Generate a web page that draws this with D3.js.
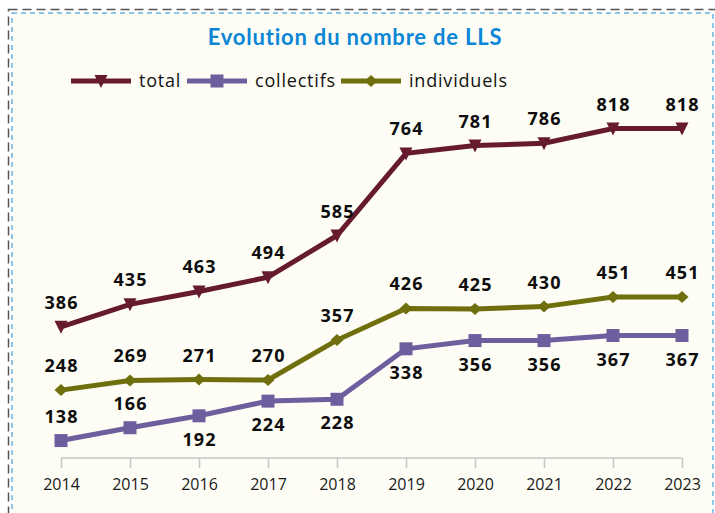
<!DOCTYPE html>
<html>
<head>
<meta charset="utf-8">
<script src="https://d3js.org/d3.v7.min.js"></script>
<style>
  body { margin: 0; background: #fff; }
  svg { display: block; }
</style>
</head>
<body>
<div id="chart"></div>
<script>
// data
const years = ["2014", "2015", "2016", "2017", "2018", "2019", "2020", "2021", "2022", "2023"];
const total = [386, 435, 463, 494, 585, 764, 781, 786, 818, 818];
const collectifs = [138, 166, 192, 224, 228, 338, 356, 356, 367, 367];
const individuels = [248, 269, 271, 270, 357, 426, 425, 430, 451, 451];
// label above (-1) or below (+1) the point for collectifs
const collectifsLabelPos = [-1, -1, 1, 1, 1, 1, 1, 1, 1, 1];

const W = 715, H = 513;
const series = [
  { name: "total", values: total, color: "#661a2e", marker: "tri", labelPos: years.map(() => -1) },
  { name: "collectifs", values: collectifs, color: "#6d5f9e", marker: "square", labelPos: collectifsLabelPos },
  { name: "individuels", values: individuels, color: "#6f6f0e", marker: "diamond", labelPos: years.map(() => -1) }
];

const svg = d3.select("#chart").append("svg")
  .attr("width", W).attr("height", H);

// background + borders
svg.append("rect").attr("x", 0).attr("y", 0).attr("width", W).attr("height", H).attr("fill", "#ffffff");
svg.append("rect").attr("x", 12).attr("y", 13).attr("width", 701).attr("height", 510)
  .attr("fill", "#fdfdf5").attr("stroke", "#1f8ad6").attr("stroke-width", 1)
  .attr("stroke-dasharray", "5,4");
svg.append("rect").attr("x", 8.5).attr("y", 9.5).attr("width", 720).attr("height", 520)
  .attr("fill", "none").attr("stroke", "#555").attr("stroke-width", 1.5)
  .attr("stroke-dasharray", "9,5");

const x = d3.scalePoint().domain(years).range([61, 682]);
const y = d3.scaleLinear().domain([100, 900]).range([458, 91]);

// x axis
const xAxis = svg.append("g")
  .attr("transform", "translate(0,458)")
  .call(d3.axisBottom(x).tickSize(10).tickPadding(11));
xAxis.select(".domain").attr("stroke", "#c6c6c6").attr("stroke-width", 1.5)
  .attr("d", "M61,0H682");
xAxis.selectAll(".tick line").attr("stroke", "#c6c6c6").attr("stroke-width", 1.5);
xAxis.selectAll(".tick text").attr("fill", "#1a1a1a")
  .style("font-family", "'Open Sans', sans-serif").style("font-size", "16px");

// title
svg.append("text").attr("x", 355).attr("y", 45).attr("text-anchor", "middle")
  .attr("fill", "#0b86d6").style("font-family", "Lato, 'Open Sans', sans-serif")
  .style("font-weight", "bold").style("font-size", "22px").style("letter-spacing", "0.8px")
  .text("Evolution du nombre de LLS");

function marker(g, type, cx, cy, color) {
  if (type === "tri") {
    g.append("path").attr("d", `M${cx - 6.5},${cy - 6}L${cx + 6.5},${cy - 6}L${cx},${cy + 7}Z`).attr("fill", color);
  } else if (type === "square") {
    g.append("rect").attr("x", cx - 6.5).attr("y", cy - 6.5).attr("width", 13).attr("height", 13).attr("fill", color);
  } else {
    g.append("path").attr("d", `M${cx},${cy - 6}L${cx + 6.5},${cy}L${cx},${cy + 6}L${cx - 6.5},${cy}Z`).attr("fill", color);
  }
}

const line = d3.line().x((d, i) => x(years[i])).y(d => y(d));

series.forEach(s => {
  const g = svg.append("g");
  g.append("path").datum(s.values).attr("d", line)
    .attr("fill", "none").attr("stroke", s.color).attr("stroke-width", 5)
    .attr("stroke-linejoin", "miter");
  s.values.forEach((v, i) => marker(g, s.marker, x(years[i]), y(v), s.color));
  s.values.forEach((v, i) => {
    const above = s.labelPos[i] < 0;
    g.append("text")
      .attr("x", x(years[i]) + 0.5)
      .attr("y", y(v) + (above ? -18 : 30))
      .attr("text-anchor", "middle")
      .attr("fill", "#0d0d0d")
      .style("font-family", "'Open Sans', sans-serif")
      .style("font-weight", "bold").style("font-size", "18px").style("letter-spacing", "1px")
      .text(v);
  });
});

// legend
const legendX = [71, 187, 341];
const legend = svg.append("g");
series.forEach((s, i) => {
  const lx = legendX[i];
  legend.append("line").attr("x1", lx).attr("x2", lx + 60).attr("y1", 81).attr("y2", 81)
    .attr("stroke", s.color).attr("stroke-width", 5);
  marker(legend, s.marker, lx + 30, 81, s.color);
  legend.append("text").attr("x", lx + 68).attr("y", 87)
    .attr("fill", "#111").style("font-family", "'Open Sans', sans-serif")
    .style("font-size", "18px").style("letter-spacing", "0.8px").text(s.name);
});
</script>
</body>
</html>
